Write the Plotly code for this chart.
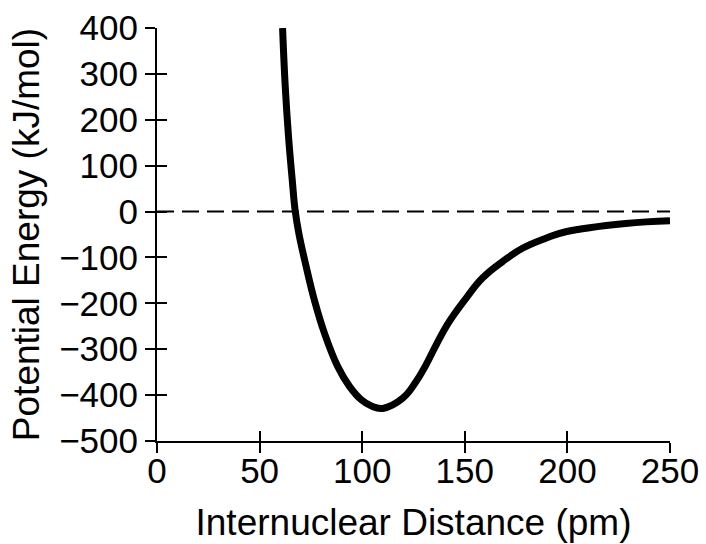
import plotly.graph_objects as go

# Data
distance_pm = [61.2, 62.5, 64.1, 65.9, 67.3, 69.1, 72.7, 76.7, 81.6, 88.1,
               93.8, 99.5, 104.5, 110.0, 119.7, 126.2, 131.1, 136.0, 142.4,
               150.6, 158.6, 168.4, 178.1, 189.5, 199.2, 228.4, 250]
energy_kj = [400, 272, 163, 69, 3, -47, -120, -193, -265, -338,
             -381, -410, -424, -429, -407, -371, -334, -291, -240,
             -189, -145, -109, -80, -58, -44, -26, -20]

zero_x = [0, 250]
zero_y = [0, 0]

x_ticks = [0, 50, 100, 150, 200, 250]
y_ticks = [-500, -400, -300, -200, -100, 0, 100, 200, 300, 400]

FONT = "Liberation Sans, Arial, Helvetica, sans-serif"

fig = go.Figure()
fig.add_trace(go.Scatter(
    x=zero_x, y=zero_y, mode="lines", xaxis="x2", yaxis="y2",
    line=dict(color="black", width=2, dash="17px,8px"),
    hoverinfo="skip", showlegend=False, cliponaxis=False,
))
fig.add_trace(go.Scatter(
    x=distance_pm, y=energy_kj, mode="lines",
    line=dict(color="black", width=7, shape="spline", smoothing=1.2, simplify=False),
    showlegend=False, cliponaxis=False,
))

axis_common = dict(
    showgrid=False, zeroline=False, tickwidth=2, ticklen=10, tickcolor="black",
)

fig.update_layout(
    width=706, height=544,
    margin=dict(l=157, r=36, t=28, b=103, autoexpand=False),
    paper_bgcolor="white", plot_bgcolor="white",
    font=dict(family=FONT, color="black", size=35),
    xaxis=dict(
        range=[0, 250], tickvals=x_ticks, ticks="outside",
        showline=True, linecolor="black", linewidth=2,
        tickfont=dict(size=35, family=FONT, color="black"),
        ticklabelstandoff=-12,
        title=dict(text="Internuclear Distance (pm)", font=dict(size=37, family=FONT, color="black"), standoff=20),
        automargin=False, **axis_common,
    ),
    yaxis=dict(
        range=[-500, 400], tickvals=y_ticks, ticks="outside",
        showline=True, linecolor="black", linewidth=2,
        tickfont=dict(size=35, family=FONT, color="black"),
        title=dict(text="Potential Energy (kJ/mol)", font=dict(size=37, family=FONT, color="black"), standoff=8),
        automargin=False, **axis_common,
    ),
    xaxis2=dict(
        range=[0, 250], tickvals=x_ticks, ticks="inside", overlaying="x",
        showticklabels=False, showline=False, anchor="y2", side="bottom",
        **axis_common,
    ),
    yaxis2=dict(
        range=[-500, 400], tickvals=y_ticks, ticks="inside", overlaying="y",
        showticklabels=False, showline=False, anchor="x2", side="left",
        **axis_common,
    ),
)

fig.write_html("out.html")
